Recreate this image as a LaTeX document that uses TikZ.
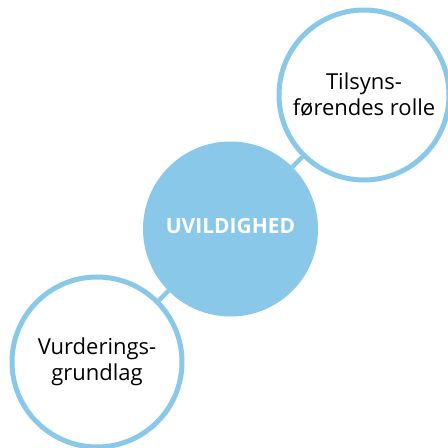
\documentclass[tikz,border=0pt]{standalone}
\usepackage{fontspec}
\setmainfont{Open Sans}
\definecolor{lightblue}{RGB}{137,200,232}
\tikzset{
  ring/.style={circle, draw=lightblue, line width=5pt, fill=white, minimum size=170pt, inner sep=0pt, align=center, font=\fontsize{22}{26}\selectfont},
  hub/.style={circle, fill=lightblue, draw=lightblue, line width=5pt, minimum size=170pt, inner sep=0pt, text=white, font=\fontsize{21}{24}\selectfont\bfseries},
  link/.style={draw=lightblue, line width=4.5pt}
}
\begin{document}
\begin{tikzpicture}[x=1pt, y=1pt]
\useasboundingbox (0,0) rectangle (448,448);

\node[hub] (u1) at (230.5,219) {};
\node[text=white, font=\fontsize{21}{24}\selectfont\bfseries] (u2) at (230.5,222) {UVILDIGHED};

\node[ring] (t1) at (364,353) {Tilsyns-\\førendes rolle};

\node[ring] (v1) at (97,86) {Vurderings-\\grundlag};

\draw[link] (u1) -- (t1);
\draw[link] (u1) -- (v1);
\end{tikzpicture}
\end{document}
